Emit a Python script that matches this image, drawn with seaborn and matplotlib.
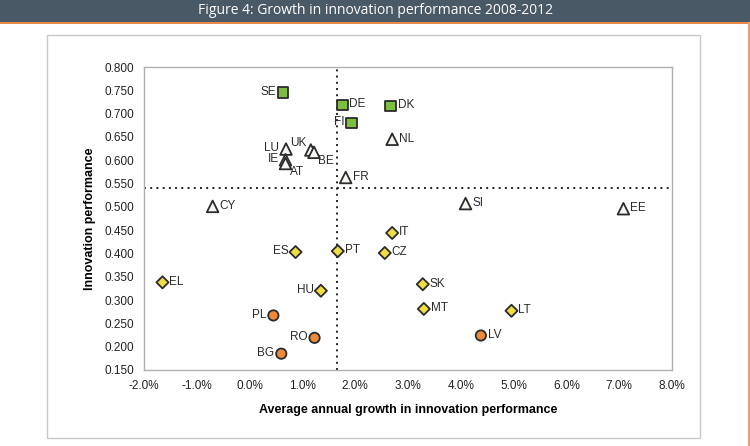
import numpy as np
import pandas as pd
import matplotlib.pyplot as plt
from matplotlib.ticker import FuncFormatter, MultipleLocator
from matplotlib.patches import Rectangle
import seaborn as sns

countries = ["SE", "DE", "DK", "FI", "NL", "LU", "UK", "BE", "IE", "AT", "FR",
             "CY", "SI", "EE", "IT", "ES", "PT", "CZ", "EL", "HU", "SK", "MT",
             "LT", "PL", "RO", "BG", "LV"]
growth = [0.63, 1.76, 2.67, 1.93, 2.70, 0.69, 1.16, 1.22, 0.68, 0.68, 1.82,
          -0.70, 4.09, 7.08, 2.70, 0.87, 1.67, 2.56, -1.65, 1.35, 3.28, 3.30,
          4.96, 0.45, 1.23, 0.60, 4.38]
performance = [0.745, 0.719, 0.717, 0.680, 0.645, 0.624, 0.622, 0.617, 0.601, 0.593, 0.563,
               0.501, 0.507, 0.496, 0.444, 0.403, 0.405, 0.401, 0.338, 0.320, 0.334, 0.281,
               0.277, 0.267, 0.219, 0.185, 0.224]

leaders = ["SE", "DE", "DK", "FI"]
moderate = ["IT", "ES", "PT", "CZ", "EL", "HU", "SK", "MT", "LT"]
modest = ["PL", "RO", "BG", "LV"]
group = ["Modest" if c in modest else "Moderate" if c in moderate
         else "Leaders" if c in leaders else "Followers" for c in countries]

avg_growth = 1.65
avg_perf = 0.540

df = pd.DataFrame({"country": countries, "growth": growth,
                   "performance": performance, "group": group})

# label placement: 'r' right of marker, 'l' left of marker
label_side = {"SE": "l", "LU": "l", "IE": "l", "FI": "l", "ES": "l", "HU": "l",
              "PL": "l", "RO": "l", "BG": "l", "UK": "ul", "BE": "br", "AT": "br"}

fig = plt.figure(figsize=(7.5, 4.46), dpi=100)
fig.patch.set_facecolor("white")

# title bar + frame
fig.add_artist(Rectangle((0, 1 - 22 / 446), 1, 22 / 446, transform=fig.transFigure,
                         facecolor="#4a5966", edgecolor="none"))
fig.add_artist(Rectangle((0, 1 - 24 / 446), 1, 2 / 446, transform=fig.transFigure,
                         facecolor="#e8884a", edgecolor="none"))
fig.add_artist(Rectangle((748 / 750, 0), 2 / 750, 1 - 22 / 446, transform=fig.transFigure,
                         facecolor="#e8a070", edgecolor="none"))
fig.add_artist(Rectangle((47 / 750, 8 / 446), 653 / 750, 403 / 446, transform=fig.transFigure,
                         facecolor="none", edgecolor="#c8c8c8", lw=1))
fig.text(0.5, 1 - 11 / 446, "Figure 4: Growth in innovation performance 2008-2012",
         ha="center", va="center", color="white", fontsize=10, family="Open Sans")

ax = fig.add_axes([144 / 750, 1 - 370 / 446, 528 / 750, 303 / 446])

sns.scatterplot(data=df, x="growth", y="performance", hue="group", style="group",
                size="group",
                hue_order=["Leaders", "Followers", "Moderate", "Modest"],
                palette={"Leaders": "#7dbd3f", "Followers": "#f4f6f2",
                         "Moderate": "#efdd45", "Modest": "#ee8a3a"},
                markers={"Leaders": "s", "Followers": "^", "Moderate": "D", "Modest": "o"},
                sizes={"Leaders": 55, "Followers": 70, "Moderate": 38, "Modest": 55},
                edgecolor="#2b2b2b", linewidth=1.3, legend=False, ax=ax, zorder=3)

ax.axvline(avg_growth, color="#222222", ls=(0, (1, 2.2)), lw=1.4, zorder=2)
ax.axhline(avg_perf, color="#222222", ls=(0, (1, 2.2)), lw=1.4, zorder=2)

lab_font = dict(fontsize=8.5, family="Liberation Sans", color="#2a2a2a")
for c, x, y in zip(countries, growth, performance):
    side = label_side.get(c, "r")
    if side == "r":
        ax.annotate(c, (x, y), xytext=(5, 0.5), textcoords="offset points",
                    ha="left", va="center", **lab_font)
    elif side == "l":
        ax.annotate(c, (x, y), xytext=(-5, 0.5), textcoords="offset points",
                    ha="right", va="center", **lab_font)
    elif side == "ul":
        ax.annotate(c, (x, y), xytext=(-3, 5), textcoords="offset points",
                    ha="right", va="center", **lab_font)
    else:
        ax.annotate(c, (x, y), xytext=(3, -6), textcoords="offset points",
                    ha="left", va="center", **lab_font)

ax.set_xlim(-2, 8)
ax.set_ylim(0.15, 0.80)
ax.xaxis.set_major_locator(MultipleLocator(1))
ax.yaxis.set_major_locator(MultipleLocator(0.05))
ax.xaxis.set_major_formatter(FuncFormatter(lambda v, p: f"{v:.1f}%"))
ax.yaxis.set_major_formatter(FuncFormatter(lambda v, p: f"{v:.3f}"))
ax.tick_params(length=0, pad=7, labelsize=8.5, labelcolor="#222222")
for lbl in ax.get_xticklabels() + ax.get_yticklabels():
    lbl.set_family("Liberation Sans")
for s in ax.spines.values():
    s.set_color("#b0b0b0")
    s.set_linewidth(1)

ax.set_xlabel("Average annual growth in innovation performance", fontsize=9,
              fontweight="bold", family="Liberation Sans", labelpad=9)
ax.set_ylabel("Innovation performance", fontsize=9, fontweight="bold",
              family="Liberation Sans", labelpad=6)

fig.savefig("out.png", dpi=100)
